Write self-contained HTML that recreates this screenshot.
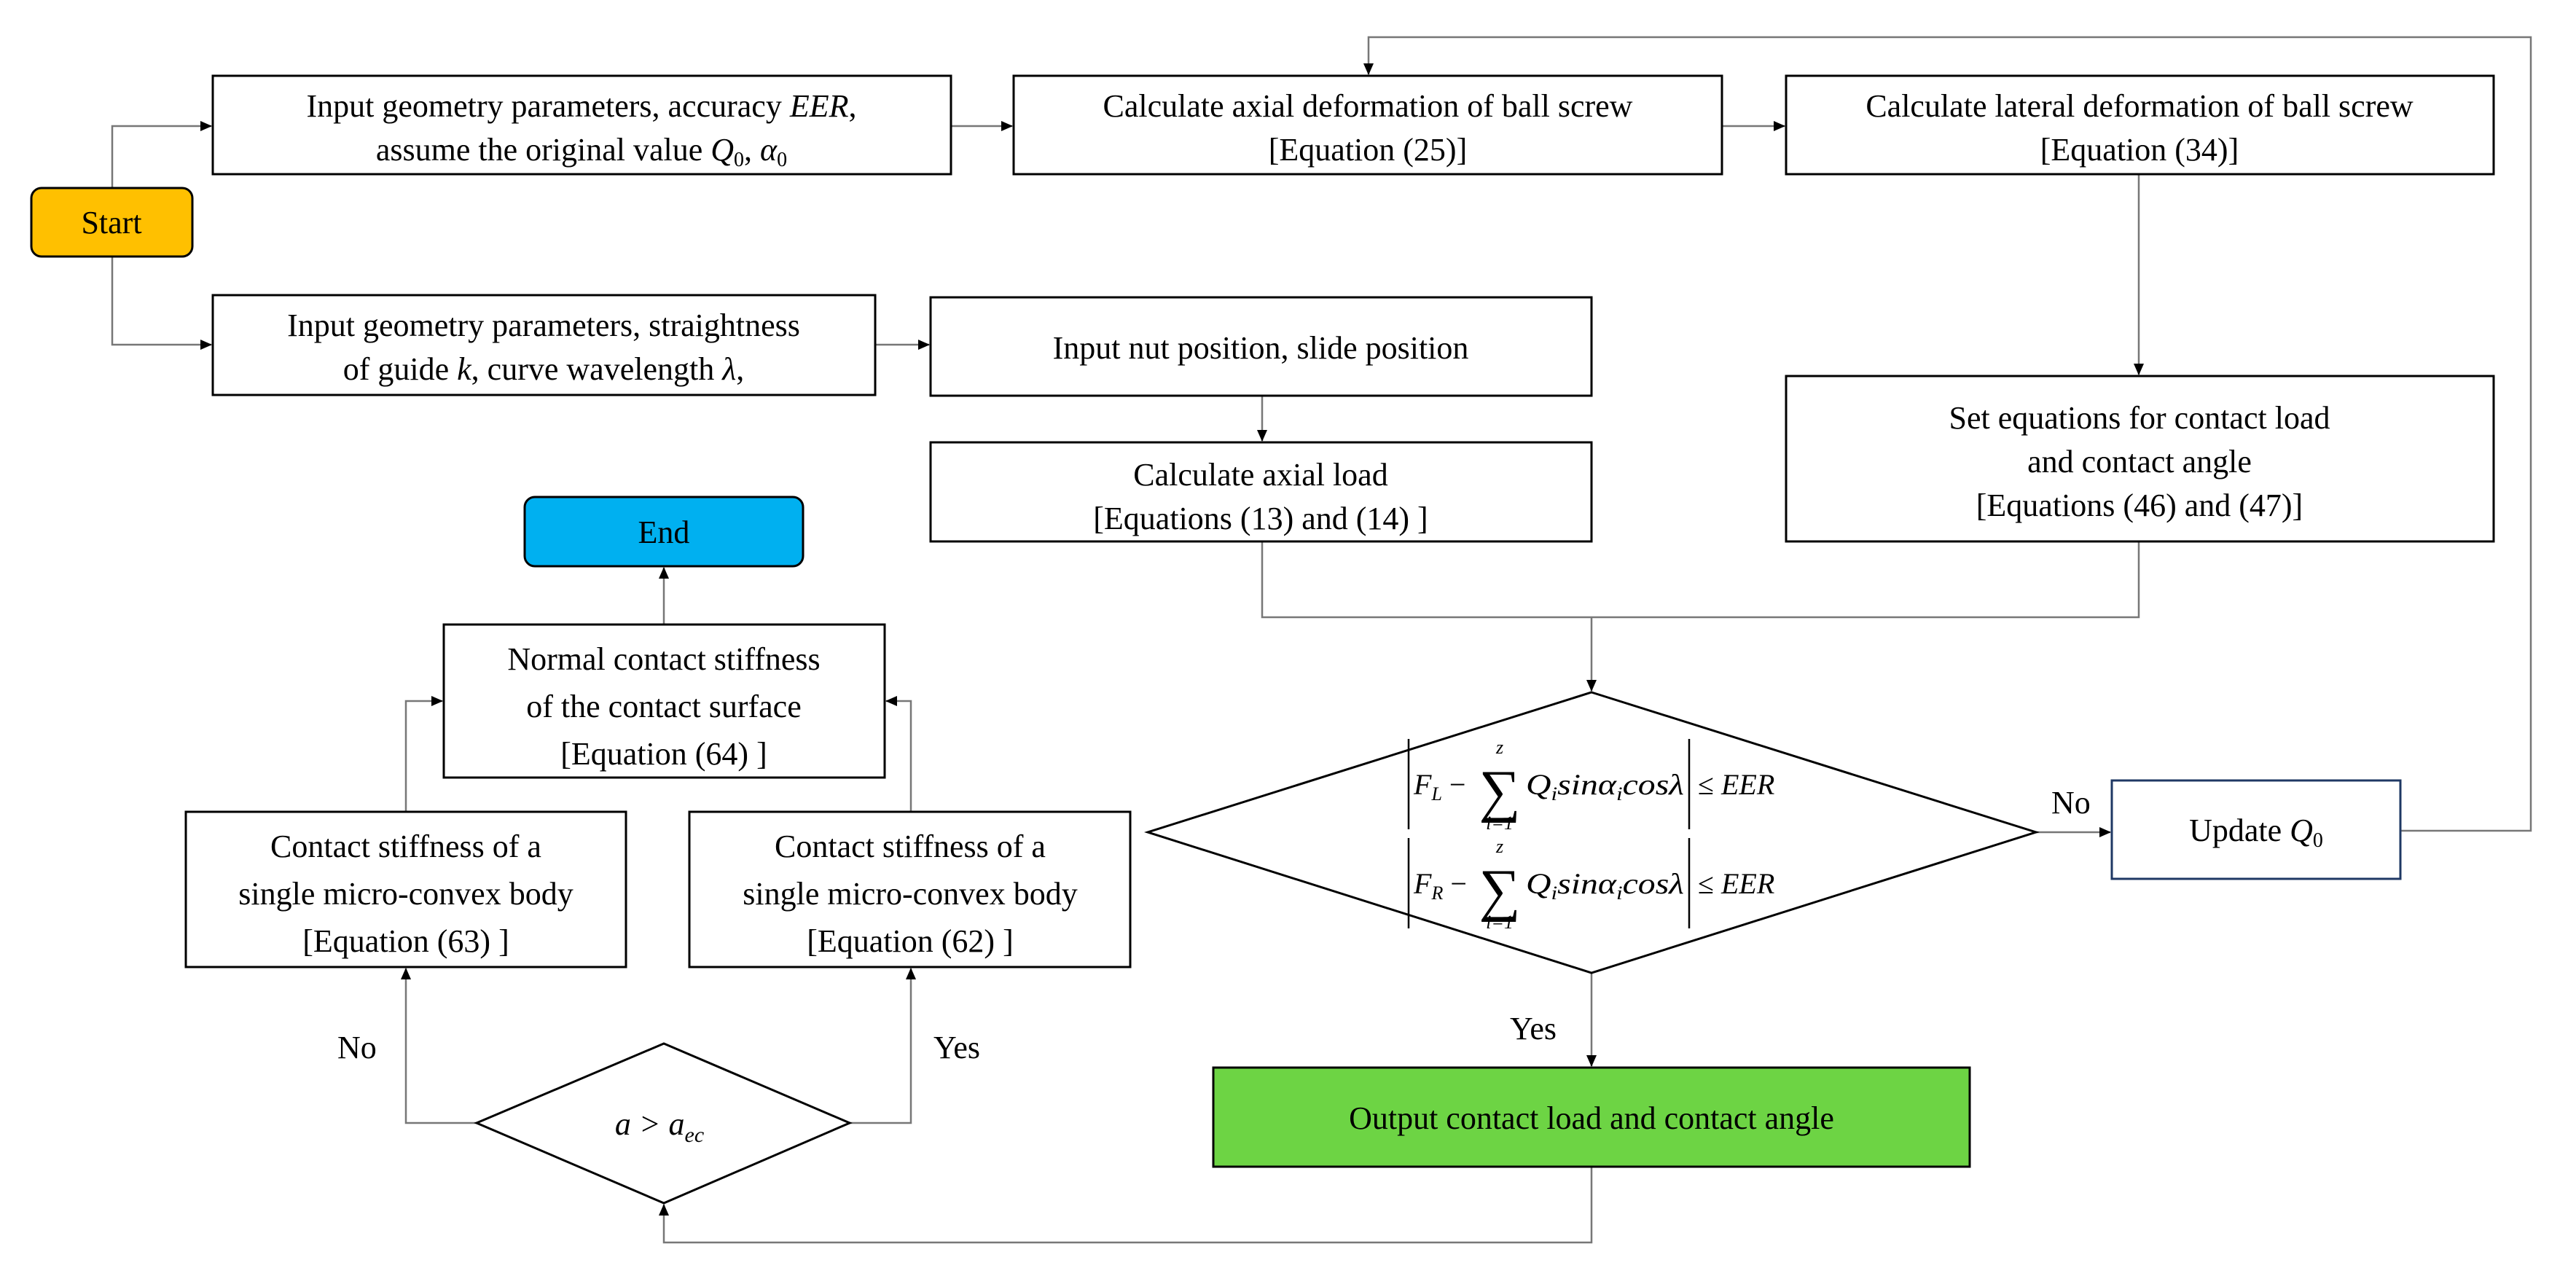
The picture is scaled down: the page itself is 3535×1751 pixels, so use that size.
<!DOCTYPE html>
<html><head><meta charset="utf-8"><style>
html,body{margin:0;padding:0;background:#fff}
svg text{font-family:"Liberation Serif",serif;font-size:44px;fill:#000}
</style></head><body>
<svg width="3535" height="1746" viewBox="0 0 3535 1746" xmlns="http://www.w3.org/2000/svg">
<defs><marker id="b" markerWidth="16" markerHeight="16" refX="15" refY="8" orient="auto" markerUnits="userSpaceOnUse"><path d="M0,1 L16,8 L0,15 z" fill="#000"/></marker></defs>
<g fill="none" stroke="#777" stroke-width="2.5">
<polyline points="154,258 154,173 290,173" marker-end="url(#b)"/>
<polyline points="154,352 154,473 290,473" marker-end="url(#b)"/>
<polyline points="1305,173 1389,173" marker-end="url(#b)"/>
<polyline points="2363,173 2449,173" marker-end="url(#b)"/>
<polyline points="2935,239 2935,514" marker-end="url(#b)"/>
<polyline points="1201,473 1275,473" marker-end="url(#b)"/>
<polyline points="1732,543 1732,605" marker-end="url(#b)"/>
<polyline points="1732,743 1732,847 2935,847 2935,743"/>
<polyline points="2184,847 2184,948" marker-end="url(#b)"/>
<polyline points="2794,1142 2896,1142" marker-end="url(#b)"/>
<polyline points="3294,1140 3473,1140 3473,51 1878,51 1878,102" marker-end="url(#b)"/>
<polyline points="2184,1335 2184,1463" marker-end="url(#b)"/>
<polyline points="2184,1601 2184,1705 911,1705 911,1653" marker-end="url(#b)"/>
<polyline points="654,1541 557,1541 557,1329" marker-end="url(#b)"/>
<polyline points="1166,1541 1250,1541 1250,1329" marker-end="url(#b)"/>
<polyline points="557,1114 557,962 607,962" marker-end="url(#b)"/>
<polyline points="1250,1114 1250,962 1216,962" marker-end="url(#b)"/>
<polyline points="911,857 911,779" marker-end="url(#b)"/>
</g>
<g stroke="#000" stroke-width="3">
<rect x="43" y="258" width="221" height="94" rx="14" fill="#ffc000"/>
<rect x="720" y="682" width="382" height="95" rx="14" fill="#00b0f0"/>
<rect x="292" y="104" width="1013" height="135" fill="#fff"/>
<rect x="292" y="405" width="909" height="137" fill="#fff"/>
<rect x="1391" y="104" width="972" height="135" fill="#fff"/>
<rect x="2451" y="104" width="971" height="135" fill="#fff"/>
<rect x="1277" y="408" width="907" height="135" fill="#fff"/>
<rect x="1277" y="607" width="907" height="136" fill="#fff"/>
<rect x="2451" y="516" width="971" height="227" fill="#fff"/>
<rect x="609" y="857" width="605" height="210" fill="#fff"/>
<rect x="255" y="1114" width="604" height="213" fill="#fff"/>
<rect x="946" y="1114" width="605" height="213" fill="#fff"/>
<rect x="2898" y="1071" width="396" height="135" fill="#fff" stroke="#1f3864"/>
<rect x="1665" y="1465" width="1038" height="136" fill="#6dd444"/>
<polygon points="2184,950 2794,1142 2184,1335 1575,1142" fill="#fff"/>
<polygon points="911,1432 1166,1541 911,1651 654,1541" fill="#fff"/>
</g>
<g stroke="#000" stroke-width="2.5"><line x1="1933" y1="1014" x2="1933" y2="1138"/><line x1="2318" y1="1014" x2="2318" y2="1138"/><line x1="1933" y1="1150" x2="1933" y2="1274"/><line x1="2318" y1="1150" x2="2318" y2="1274"/></g>
<g text-anchor="middle">
<text x="153" y="320">Start</text>
<text x="911" y="745">End</text>
<text x="798" y="160">Input geometry parameters, accuracy <tspan font-style="italic">EER</tspan>,</text>
<text x="798" y="220">assume the original value <tspan font-style="italic">Q</tspan><tspan font-size="28" dy="8">0</tspan><tspan dy="-8">, </tspan><tspan font-style="italic">α</tspan><tspan font-size="28" dy="8">0</tspan></text>
<text x="746" y="461">Input geometry parameters, straightness</text>
<text x="746" y="521">of guide <tspan font-style="italic">k</tspan>, curve wavelength <tspan font-style="italic">λ</tspan>,</text>
<text x="1877" y="160">Calculate axial deformation of ball screw</text>
<text x="1877" y="220">[Equation (25)]</text>
<text x="2936" y="160">Calculate lateral deformation of ball screw</text>
<text x="2936" y="220">[Equation (34)]</text>
<text x="1730" y="492">Input nut position, slide position</text>
<text x="1730" y="666">Calculate axial load</text>
<text x="1730" y="726">[Equations (13) and (14) ]</text>
<text x="2936" y="588">Set equations for contact load</text>
<text x="2936" y="648">and contact angle</text>
<text x="2936" y="708">[Equations (46) and (47)]</text>
<text x="911" y="919">Normal contact stiffness</text>
<text x="911" y="984">of the contact surface</text>
<text x="911" y="1049">[Equation (64) ]</text>
<text x="557" y="1176">Contact stiffness of a</text>
<text x="557" y="1241">single micro-convex body</text>
<text x="557" y="1306">[Equation (63) ]</text>
<text x="1249" y="1176">Contact stiffness of a</text>
<text x="1249" y="1241">single micro-convex body</text>
<text x="1249" y="1306">[Equation (62) ]</text>
<text x="905" y="1557" font-style="italic">a &gt; a<tspan font-size="30" dy="10">ec</tspan></text>
<text x="3096" y="1154">Update <tspan font-style="italic">Q</tspan><tspan font-size="28" dy="8">0</tspan></text>
<text x="2184" y="1549">Output contact load and contact angle</text>
</g>
<text x="463" y="1452">No</text><text x="1281" y="1452">Yes</text>
<text x="2815" y="1116">No</text><text x="2072" y="1426">Yes</text>
<g>
<text x="1940" y="1090" style="font-size:40px;font-style:italic">F<tspan font-size="26" dy="8">L</tspan><tspan dy="-8" font-style="normal"> −</tspan></text>
<text x="2058" y="1112" style="font-size:80px" text-anchor="middle">∑</text>
<text x="2058" y="1034" style="font-size:26px;font-style:italic" text-anchor="middle">z</text>
<text x="2058" y="1138" style="font-size:26px;font-style:italic" text-anchor="middle">i=1</text>
<text x="2094" y="1090" style="font-size:40px;font-style:italic" textLength="217" lengthAdjust="spacingAndGlyphs">Q<tspan font-size="26" dy="8">i</tspan><tspan dy="-8">sinα</tspan><tspan font-size="26" dy="8">i</tspan><tspan dy="-8">cosλ</tspan></text>
<text x="2330" y="1090" style="font-size:40px;font-style:italic"><tspan font-style="normal">≤ </tspan>EER</text>
<text x="1940" y="1226" style="font-size:40px;font-style:italic">F<tspan font-size="26" dy="8">R</tspan><tspan dy="-8" font-style="normal"> −</tspan></text>
<text x="2058" y="1248" style="font-size:80px" text-anchor="middle">∑</text>
<text x="2058" y="1170" style="font-size:26px;font-style:italic" text-anchor="middle">z</text>
<text x="2058" y="1274" style="font-size:26px;font-style:italic" text-anchor="middle">i=1</text>
<text x="2094" y="1226" style="font-size:40px;font-style:italic" textLength="217" lengthAdjust="spacingAndGlyphs">Q<tspan font-size="26" dy="8">i</tspan><tspan dy="-8">sinα</tspan><tspan font-size="26" dy="8">i</tspan><tspan dy="-8">cosλ</tspan></text>
<text x="2330" y="1226" style="font-size:40px;font-style:italic"><tspan font-style="normal">≤ </tspan>EER</text>
</g>
</svg>
</body></html>
